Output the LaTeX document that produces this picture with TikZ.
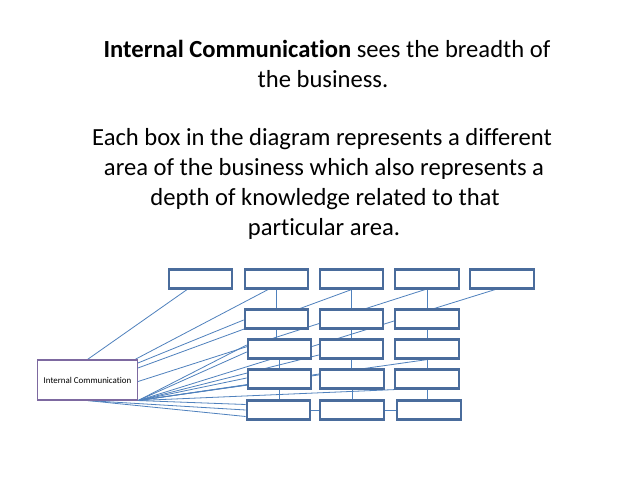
\documentclass[tikz,border=0pt]{standalone}
\usepackage{fontspec}
\setmainfont{Carlito}[Ligatures=NoCommon]
\pgfdeclarelayer{back}
\pgfdeclarelayer{lines}
\pgfsetlayers{back,lines,main}
\definecolor{boxblue}{RGB}{74,108,156}
\definecolor{linkblue}{RGB}{79,129,189}
\definecolor{icpurple}{RGB}{125,105,160}
\begin{document}
\begin{tikzpicture}[x=1pt,y=-1pt,
  box/.style={draw=boxblue, line width=2.2pt, fill=white, minimum width=63.5pt, minimum height=19pt, inner sep=0pt},
  icbox/.style={draw=icpurple, line width=1.1pt, fill=white, minimum width=100pt, minimum height=40pt, inner sep=0pt, font=\fontsize{8.9}{10}\selectfont},
  link/.style={draw=linkblue, line width=0.8pt},
  title/.style={anchor=base, inner sep=0pt, font=\fontsize{24.6}{28}\selectfont}]
\begin{pgfonlayer}{back}
\fill[white] (0,0) rectangle (638,479);
\end{pgfonlayer}
\useasboundingbox (0,0) rectangle (638,479);

% title text
\node[title] (l1) at (327,57) {\textbf{Internal Communication} sees the breadth of};
\node[title] (l2) at (323,87) {the business.};
\node[title] (l3) at (322,145) {Each box in the diagram represents a different};
\node[title] (l4) at (324,175) {area of the business which also represents a};
\node[title] (l5) at (325,205) {depth of knowledge related to that};
\node[title] (l6) at (324,235) {particular area.};

% boxes
\node[box] (T1) at (200.5,279) {};
\node[box] (T2) at (276.5,279) {};
\node[box] (T3) at (351.5,279) {};
\node[box] (T4) at (427,279) {};
\node[box] (T5) at (502,279) {};
\node[box] (R2a) at (276.5,319) {};
\node[box] (R2b) at (351.5,319) {};
\node[box] (R2c) at (427,319) {};
\node[box] (R3a) at (279.5,349) {};
\node[box] (R3b) at (351.5,349) {};
\node[box] (R3c) at (427,349) {};
\node[box] (R4a) at (279.5,379) {};
\node[box] (R4b) at (352,379) {};
\node[box] (R4c) at (427,379) {};
\node[box] (R5a) at (278.5,410) {};
\node[box] (R5b) at (352,410) {};
\node[box] (R5c) at (429,410) {};
\node[icbox] (IC) at (87.5,380) {Internal Communication};

\begin{pgfonlayer}{lines}
% tree connectors
\draw[link] (T2.south) -- (T2.south |- R2a.north);
\draw[link] (R2a.south) -- (R2a.south |- R3a.north);
\draw[link] (R3a.south) -- (R3a.south |- R4a.north);
\draw[link] (R4a.south) -- (R4a.south |- R5a.north);
\draw[link] (T3.south) -- (T3.south |- R2b.north);
\draw[link] (R2b.south) -- (R2b.south |- R3b.north);
\draw[link] (R3b.south) -- (R3b.south |- R4b.north);
\draw[link] (R4b.south) -- (R4b.south |- R5b.north);
\draw[link] (T4.south) -- (T4.south |- R2c.north);
\draw[link] (R2c.south) -- (R2c.south |- R3c.north);
\draw[link] (R3c.south) -- (R3c.south |- R4c.north);
\draw[link] (R4c.south) -- (R4c.south |- R5c.north);
\draw[link] (R5a.east) -- (R5b.west);
\draw[link] (R5b.east) -- (R5c.west);
% fan from Internal Communication
\draw[link] (IC.north) -- ([xshift=-13.5pt]T1.south);
\draw[link] ([xshift=-3pt]IC.north east) -- ([xshift=-8.5pt]T2.south);
\draw[link] ([yshift=-3.5pt]IC.north east) -- ([yshift=-1pt]R2a.west);
\draw[link] ([yshift=-8.5pt]IC.north east) -- (T3.south);
\draw[link] ([yshift=-1.5pt]IC.east) -- ([xshift=-2pt]T4.south);
\draw[link] (IC.south east) -- ([xshift=-7pt]T5.south);
\draw[link] (IC.south east) -- ([yshift=4pt]R3a.west);
\draw[link] (IC.south east) -- ([yshift=-3pt]R3a.west);
\draw[link] (IC.south east) -- ([yshift=-6pt]R3b.west);
\draw[link] (IC.south east) -- (R3c.south);
\draw[link] (IC.south east) -- ([yshift=1pt]R4a.west);
\draw[link] (IC.south east) -- ([yshift=-6pt]R4a.west);
\draw[link] (IC.south east) -- ([yshift=5pt]R4b.west);
\draw[link] (IC.south east) -- (R4c.south west);
\draw[link] (IC.south east) -- ([yshift=5.5pt]R5a.west);
\draw[link] (IC.south) -- (R5a.west);
\draw[link] (IC.south) -- ([yshift=-6.5pt]R5a.west);
\end{pgfonlayer}
\end{tikzpicture}
\end{document}
